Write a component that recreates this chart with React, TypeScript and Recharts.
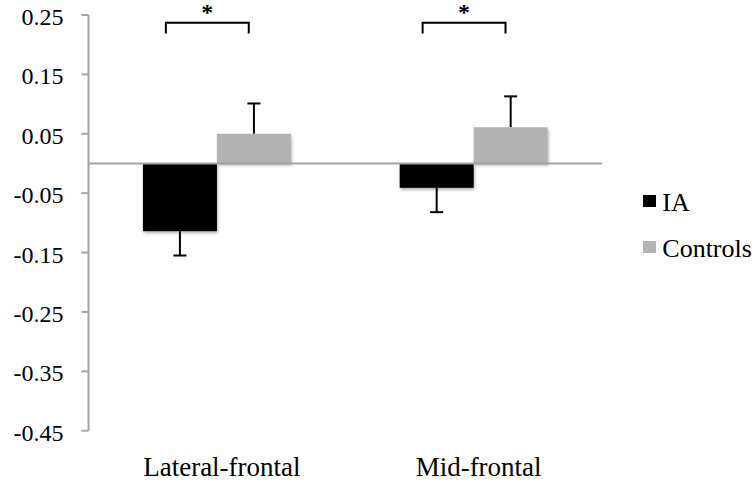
import React from 'react';
import { BarChart, Bar, XAxis, YAxis, ReferenceLine, Legend } from 'recharts';

const categories = ['Lateral-frontal', 'Mid-frontal'];
const seriesNames = ['IA', 'Controls'];
const iaValues = [-0.114, -0.041];
const controlValues = [0.05, 0.061];
const iaErrors = [0.041, 0.041];
const controlErrors = [0.051, 0.052];
const significance = ['*', '*'];
const yTicks = [-0.45, -0.35, -0.25, -0.15, -0.05, 0.05, 0.15, 0.25];
const bracketLevel = 0.237;
const bracketDropLevel = 0.219;
const starLevel = 0.242;

const data = categories.map((c, i) => ({
  category: c,
  IA: iaValues[i],
  Controls: controlValues[i],
  iaErr: iaErrors[i],
  ctrlErr: controlErrors[i],
  sig: significance[i],
}));

const FONT = '"Liberation Serif", "Times New Roman", serif';
const AXIS_GRAY = '#a3a3a3';

const makeShape = (valueKey: string, errKey: string, fill: string, withBracket: boolean, fid: string) => (props: any) => {
  const { x, y, width, height, payload } = props;
  const v = payload[valueKey];
  const err = payload[errKey];
  const top = Math.min(y, y + height);
  const bottom = Math.max(y, y + height);
  const h = bottom - top;
  if (!h || !v) return <g />;
  const ppu = h / Math.abs(v);
  const zeroY = v >= 0 ? bottom : top;
  const toY = (val: number) => zeroY - val * ppu;
  const cx = x + width / 2;
  const endY = toY(v);
  const errY = toY(v >= 0 ? v + err : v - err);
  const cap = 13;
  let bracket = null;
  if (withBracket) {
    const left = x - 0.69 * width;
    const right = x + 0.43 * width;
    const by = toY(bracketLevel);
    const bd = toY(bracketDropLevel);
    const sy = toY(starLevel);
    bracket = (
      <g>
        <path d={`M${left},${bd} L${left},${by} L${right},${by} L${right},${bd}`} fill="none" stroke="#000" strokeWidth={2} />
        <text x={(left + right) / 2} y={sy} textAnchor="middle" fontFamily={FONT} fontWeight="bold" fontSize={24} fill="#000">
          {payload.sig}
        </text>
      </g>
    );
  }
  return (
    <g>
      <defs>
        <filter id={fid} x="-20%" y="-20%" width="140%" height="140%">
          <feDropShadow dx="1" dy="2" stdDeviation="1.5" floodColor="#000" floodOpacity="0.3" />
        </filter>
      </defs>
      <line x1={cx} x2={cx} y1={endY} y2={errY} stroke="#000" strokeWidth={2} />
      <line x1={cx - cap / 2} x2={cx + cap / 2} y1={errY} y2={errY} stroke="#000" strokeWidth={2} />
      <rect x={x} y={top} width={width} height={h} fill={fill} filter={`url(#${fid})`} />
      {bracket}
    </g>
  );
};

const YTick = (props: any) => {
  const { x, y, payload } = props;
  return (
    <text x={x} y={y + 10} textAnchor="end" fontFamily={FONT} fontSize={24} fill="#000">
      {Number(payload.value).toFixed(2)}
    </text>
  );
};

const XTick = (props: any) => {
  const { x, y, payload } = props;
  return (
    <text x={x + 5} y={y + 45.3} textAnchor="middle" fontFamily={FONT} fontSize={27} fill="#000">
      {payload.value}
    </text>
  );
};

const renderLegend = (props: any) => {
  const items = [...(props.payload || [])].sort(
    (a: any, b: any) => seriesNames.indexOf(a.value) - seriesNames.indexOf(b.value)
  );
  return (
    <div style={{ fontFamily: FONT, fontSize: 26, color: '#000' }}>
      {items.map((item: any, i: number) => (
        <div key={i} style={{ position: 'relative', height: 46.3 }}>
          <span style={{ position: 'absolute', left: 0, top: 4.5, width: 13, height: 12, background: item.color }} />
          <span style={{ position: 'absolute', left: 19, top: 0, lineHeight: '26px', whiteSpace: 'nowrap' }}>{item.value}</span>
        </div>
      ))}
    </div>
  );
};

export default function App() {
  return (
    <div style={{ position: 'absolute', left: 0, top: 0, background: '#fff' }}>
      <BarChart
        width={754}
        height={482}
        data={data}
        margin={{ top: 15, right: 152, bottom: 11.3, left: 0.5 }}
        barCategoryGap="21.2%"
        barGap={0}
      >
        <XAxis dataKey="category" axisLine={false} tickLine={false} tickSize={0} tickMargin={0} height={40} interval={0} tick={<XTick />} />
        <YAxis
          type="number"
          domain={[-0.45, 0.25]}
          ticks={yTicks}
          width={88}
          axisLine={{ stroke: AXIS_GRAY, strokeWidth: 2 }}
          tickLine={{ stroke: AXIS_GRAY, strokeWidth: 2 }}
          tickSize={7}
          tickMargin={18}
          interval={0}
          tick={<YTick />}
        />
        <ReferenceLine y={0} stroke={AXIS_GRAY} strokeWidth={2} />
        <Bar dataKey="IA" name={seriesNames[0]} fill="#000000" isAnimationActive={false} shape={makeShape('IA', 'iaErr', '#000000', false, 'shIA')} />
        <Bar dataKey="Controls" name={seriesNames[1]} fill="#b3b3b3" isAnimationActive={false} shape={makeShape('Controls', 'ctrlErr', '#b3b3b3', true, 'shCt')} />
        <Legend
          layout="vertical"
          align="center"
          verticalAlign="middle"
          wrapperStyle={{ left: 643.3, top: 190, width: 111 }}
          content={renderLegend}
        />
      </BarChart>
    </div>
  );
}
